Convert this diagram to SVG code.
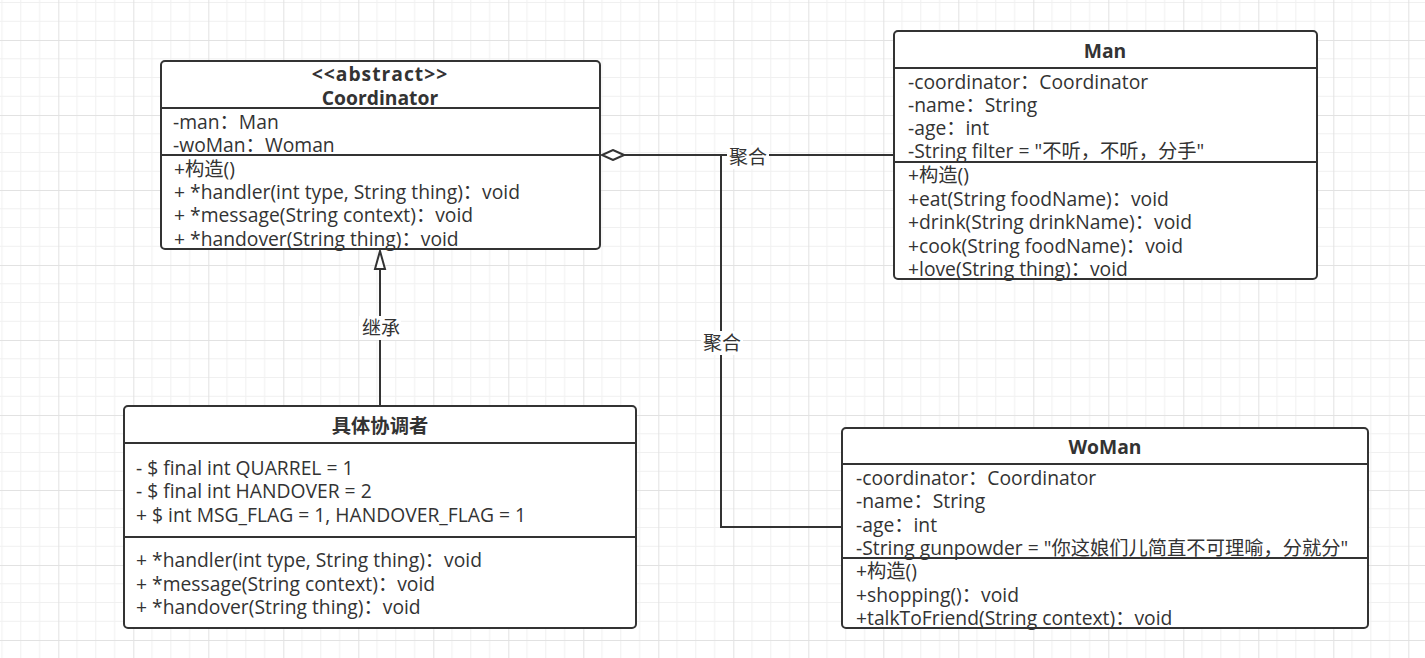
<svg xmlns="http://www.w3.org/2000/svg" width="1425" height="658" viewBox="0 0 1425 658">
<defs>
<pattern id="grid" patternUnits="userSpaceOnUse" x="58.3" y="40" width="75" height="75">
<path d="M18.75 0V75M37.5 0V75M56.25 0V75M0 18.75H75M0 37.5H75M0 56.25H75" stroke="#f0f0f0" stroke-width="1" fill="none"/>
<path d="M0.5 0V75M0 0.5H75" stroke="#e2e2e2" stroke-width="1" fill="none"/>
</pattern>
<marker id="diamond" viewBox="0 0 26 12" refX="23" refY="6" markerWidth="26" markerHeight="12" markerUnits="userSpaceOnUse" orient="auto">
<path d="M1 6L12 1L23 6L12 11Z" fill="#fff" stroke="#333" stroke-width="2"/>
</marker>
<marker id="tri" viewBox="0 0 14 22" refX="7" refY="2" markerWidth="14" markerHeight="22" markerUnits="userSpaceOnUse" orient="0">
<path d="M7 2L12 20H2Z" fill="#fff" stroke="#333" stroke-width="2"/>
</marker>
</defs>
<style>
.box{fill:#fff;stroke:#333;stroke-width:2}
.div{stroke:#333;stroke-width:2}
text{font-family:"Open Sans","Noto Sans CJK SC",sans-serif;font-size:19.3px;fill:#333;dominant-baseline:central}
.t{font-weight:bold;text-anchor:middle}
.lbl{text-anchor:middle;font-size:19px}
.edge{fill:none;stroke:#333;stroke-width:2}
</style>
<rect width="1425" height="658" fill="#fff"/>
<rect width="1425" height="658" fill="url(#grid)"/>

<g id="connectors">
<path class="edge" d="M894 155H602" marker-end="url(#diamond)"/>
<path class="edge" d="M842 527H721V155"/>
<path class="edge" d="M380 406V251" marker-end="url(#tri)"/>
<rect x="727" y="145" width="42" height="24" fill="#fff"/>
<text class="lbl" x="748" y="157">聚合</text>
<rect x="701" y="331" width="42" height="24" fill="#fff"/>
<text class="lbl" x="722" y="343">聚合</text>
<rect x="359" y="316" width="42" height="24" fill="#fff"/>
<text class="lbl" x="381" y="328">继承</text>
</g>

<g id="coordinator">
<rect class="box" x="161" y="61" width="439" height="188" rx="4"/>
<line class="div" x1="161" y1="108" x2="600" y2="108"/>
<line class="div" x1="161" y1="155" x2="600" y2="155"/>
<text class="t" x="380" y="73" letter-spacing="1">&lt;&lt;abstract&gt;&gt;</text>
<text class="t" x="380" y="97">Coordinator</text>
<text x="173" y="121">-man：Man</text>
<text x="173" y="144">-woMan：Woman</text>
<text x="174" y="168">+构造()</text>
<text x="174" y="191">+ *handler(int type, String thing)：void</text>
<text x="174" y="214">+ *message(String context)：void</text>
<text x="174" y="238">+ *handover(String thing)：void</text>
</g>

<g id="man">
<rect class="box" x="894" y="31" width="423" height="248" rx="4"/>
<line class="div" x1="894" y1="68" x2="1317" y2="68"/>
<line class="div" x1="894" y1="162" x2="1317" y2="162"/>
<text class="t" x="1105" y="50">Man</text>
<text x="908" y="81">-coordinator：Coordinator</text>
<text x="908" y="104">-name：String</text>
<text x="908" y="127">-age：int</text>
<text x="908" y="150">-String filter = "不听，不听，分手"</text>
<text x="908" y="174">+构造()</text>
<text x="908" y="198">+eat(String foodName)：void</text>
<text x="908" y="221">+drink(String drinkName)：void</text>
<text x="908" y="245">+cook(String foodName)：void</text>
<text x="908" y="268">+love(String thing)：void</text>
</g>

<g id="woman">
<rect class="box" x="842" y="428" width="526" height="200" rx="4"/>
<line class="div" x1="842" y1="464" x2="1368" y2="464"/>
<line class="div" x1="842" y1="558" x2="1368" y2="558"/>
<text class="t" x="1105" y="446">WoMan</text>
<text x="856" y="477">-coordinator：Coordinator</text>
<text x="856" y="500">-name：String</text>
<text x="856" y="524">-age：int</text>
<text x="856" y="547">-String gunpowder = "你这娘们儿简直不可理喻，分就分"</text>
<text x="856" y="570">+构造()</text>
<text x="856" y="594">+shopping()：void</text>
<text x="856" y="617">+talkToFriend(String context)：void</text>
</g>

<g id="concrete">
<rect class="box" x="124" y="406" width="512" height="222" rx="4"/>
<line class="div" x1="124" y1="443" x2="636" y2="443"/>
<line class="div" x1="124" y1="537" x2="636" y2="537"/>
<text class="t" x="380" y="425">具体协调者</text>
<text x="136" y="467">- $ final int QUARREL = 1</text>
<text x="136" y="490">- $ final int HANDOVER = 2</text>
<text x="136" y="514">+ $ int MSG_FLAG = 1, HANDOVER_FLAG = 1</text>
<text x="136" y="559">+ *handler(int type, String thing)：void</text>
<text x="136" y="583">+ *message(String context)：void</text>
<text x="136" y="606">+ *handover(String thing)：void</text>
</g>
</svg>
